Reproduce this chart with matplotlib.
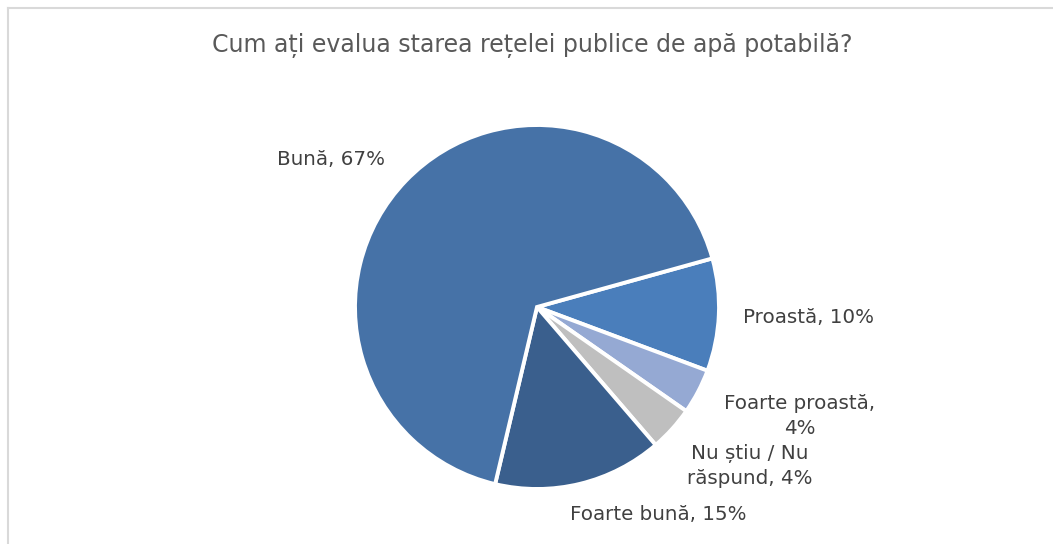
import matplotlib.pyplot as plt
from matplotlib.lines import Line2D

# survey answers, in clockwise order starting just above 3 o'clock
labels = ["Proastă", "Foarte proastă", "Nu știu / Nu\nrăspund", "Foarte bună", "Bună"]
shares = [10, 4, 4, 15, 67]
label_text = ["Proastă, 10%", "Foarte proastă,\n4%", "Nu știu / Nu\nrăspund, 4%",
              "Foarte bună, 15%", "Bună, 67%"]

COLORS = ["#4A7EBB", "#95A9D3", "#BFBFBF", "#3A5F8D", "#4672A7"]
# where each label sits, in units of the pie radius
LABEL_POS = [(1.49, -0.06), (1.445, -0.60), (1.17, -0.875), (0.665, -1.14), (-1.13, 0.81)]

W, H = 1053, 544
cx, cy, r = 537, 307, 182

fig = plt.figure(figsize=(W / 100, H / 100), dpi=100)
ax = fig.add_axes([(cx - r) / W, (H - cy - r) / H, 2 * r / W, 2 * r / H])

ax.pie(shares, colors=COLORS, startangle=15.5, counterclock=False, radius=1,
       wedgeprops=dict(edgecolor="white", linewidth=2.8))
ax.set_xlim(-1, 1)
ax.set_ylim(-1, 1)
ax.set_aspect("equal")
ax.axis("off")

for txt, (x, y) in zip(label_text, LABEL_POS):
    ax.text(x, y, txt, ha="center", va="center", fontsize=14.3, color="#404040",
            family="DejaVu Sans", multialignment="center", linespacing=1.38)

fig.text(532 / W, 1 - 45 / H, "Cum ați evalua starea rețelei publice de apă potabilă?",
         ha="center", va="center", fontsize=17, color="#595959", family="DejaVu Sans")

# chart area border (only top and left edges show in the crop)
fig.add_artist(Line2D([8 / W, 1.0], [1 - 8 / H, 1 - 8 / H], transform=fig.transFigure,
                      color="#D9D9D9", linewidth=1.5))
fig.add_artist(Line2D([8 / W, 8 / W], [0, 1 - 8 / H], transform=fig.transFigure,
                      color="#D9D9D9", linewidth=1.5))

fig.savefig("out.png", dpi=100, facecolor="white")
